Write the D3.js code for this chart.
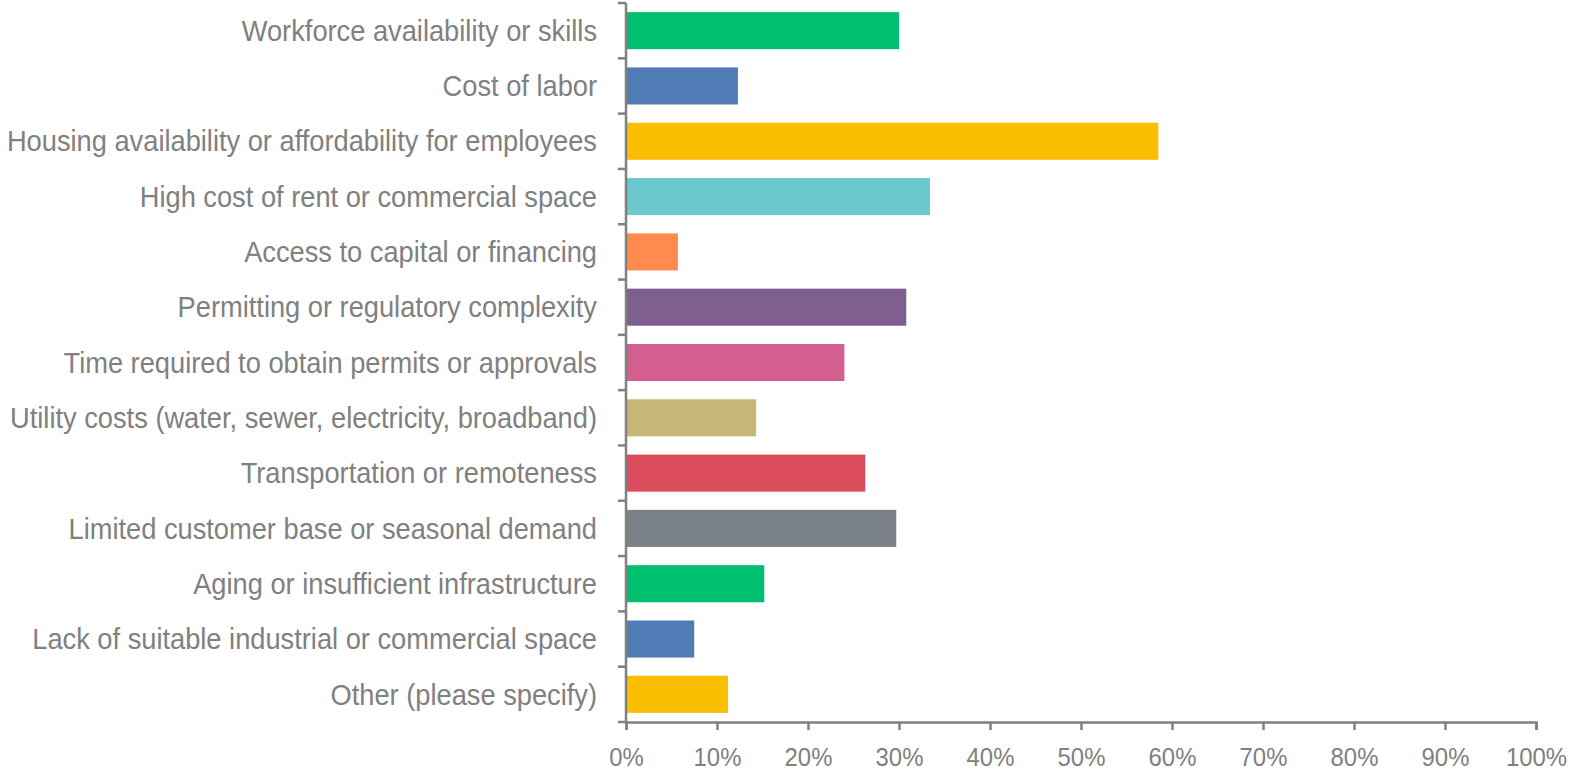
<!DOCTYPE html>
<html><head><meta charset="utf-8">
<script src="https://cdn.jsdelivr.net/npm/d3@7"></script>
<style>body{margin:0;background:#fff}svg{display:block}</style>
</head><body><svg id="c" width="1571" height="773"></svg>
<script>
const categories = [
 "Workforce availability or skills",
 "Cost of labor",
 "Housing availability or affordability for employees",
 "High cost of rent or commercial space",
 "Access to capital or financing",
 "Permitting or regulatory complexity",
 "Time required to obtain permits or approvals",
 "Utility costs (water, sewer, electricity, broadband)",
 "Transportation or remoteness",
 "Limited customer base or seasonal demand",
 "Aging or insufficient infrastructure",
 "Lack of suitable industrial or commercial space",
 "Other (please specify)"
];
const values = [30.0, 12.3, 58.5, 33.4, 5.7, 30.8, 24.0, 14.3, 26.3, 29.7, 15.2, 7.5, 11.2];
const colors = ["#00BF6F","#507CB6","#F9BE00","#6BC8CD","#FF8B4F","#7F5F90","#D25F90","#C8B678","#DB4D5C","#7A8088","#00BF6F","#507CB6","#F9BE00"];
const ticks = [0,10,20,30,40,50,60,70,80,90,100];

const svg = d3.select("#c");
const m = {left:626, right:35, top:3, bottom:51};
const W = 1571, H = 773;
const x = d3.scaleLinear().domain([0,100]).range([m.left, W - m.right]);
const y = d3.scaleBand().domain(categories).range([m.top, H - m.bottom]).paddingInner(0.33).paddingOuter(0.165);

const font = "'Liberation Sans', Arial, sans-serif";
const grey = "#808080";

svg.append("g").selectAll("rect").data(categories).join("rect")
  .attr("x", x(0)+1).attr("y", d=>y(d))
  .attr("width", (d,i)=>x(values[i])-x(0)-1)
  .attr("height", y.bandwidth())
  .attr("fill", (d,i)=>colors[i]);

// y axis
const yAxisG = svg.append("g").attr("transform", `translate(${x(0)},0)`);
yAxisG.append("line").attr("x1",0).attr("x2",0).attr("y1",m.top).attr("y2",H-m.bottom)
  .attr("stroke",grey).attr("stroke-width",2.5);
const step = (H - m.bottom - m.top)/categories.length;
yAxisG.selectAll("line.t").data(d3.range(categories.length+1)).join("line").attr("class","t")
  .attr("x1",-8).attr("x2",0).attr("y1",i=>m.top+i*step).attr("y2",i=>m.top+i*step)
  .attr("stroke",grey).attr("stroke-width",2.5);
yAxisG.selectAll("text").data(categories).join("text")
  .attr("transform",d=>`translate(-29,${y(d)+y.bandwidth()/2}) scale(0.94,1)`)
  .attr("dy","0.35em").attr("text-anchor","end")
  .attr("fill",grey).style("font-family",font).style("font-size","29px")
  .text(d=>d);

// x axis
const xa = d3.axisBottom(x).tickValues(ticks).tickFormat(d=>d+"%").tickSize(8).tickPadding(18);
const xg = svg.append("g").attr("transform",`translate(0,${H-m.bottom})`).call(xa);
xg.select(".domain").attr("stroke",grey).attr("stroke-width",2.5);
xg.selectAll(".tick line").attr("stroke",grey).attr("stroke-width",2.5);
xg.selectAll(".tick text").attr("fill",grey).attr("transform","scale(0.92,1)")
  .style("font-family",font).style("font-size","26px");
</script></body></html>
